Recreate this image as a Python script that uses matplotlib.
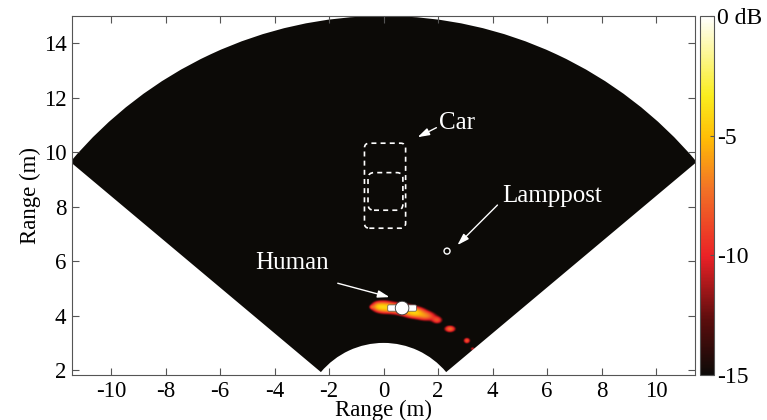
import numpy as np
import matplotlib
matplotlib.use("Agg")
import matplotlib.pyplot as plt
from matplotlib.patches import Wedge, FancyBboxPatch, Circle
from matplotlib.colors import LinearSegmentedColormap

plt.rcParams['font.family'] = ['Liberation Serif', 'DejaVu Serif']
plt.rcParams['axes.unicode_minus'] = False

# ---- data ----
x_ticks = [-10, -8, -6, -4, -2, 0, 2, 4, 6, 8, 10]
y_ticks = [2, 4, 6, 8, 10, 12, 14]
cbar_ticks = [0, -5, -10, -15]
cbar_labels = ['0 dB', '-5', '-10', '-15']
sector_angle_deg = 50
r_min, r_max = 3.0, 15.0

# hotspots of reflected power: x, y, sigma_x, sigma_y, linear amplitude
spot_x = [-0.02, 0.35, 0.68, 1.12, 1.55, 1.95, -0.25, -0.45, 2.42, 3.04, 3.25]
spot_y = [4.30, 4.27, 4.22, 4.10, 3.97, 3.82, 4.33, 4.30, 3.50, 3.07, 2.77]
spot_sx = [0.22, 0.20, 0.26, 0.24, 0.22, 0.13, 0.13, 0.06, 0.13, 0.08, 0.06]
spot_sy = [0.13, 0.12, 0.13, 0.12, 0.11, 0.09, 0.10, 0.05, 0.08, 0.07, 0.05]
spot_amp = [0.33, 0.16, 0.20, 0.33, 0.18, 0.13, 0.12, 0.08, 0.18, 0.15, 0.09]

human_xy = (0.68, 4.28)
lamppost_xy = (2.33, 6.37)
car_outer = (-0.70, 7.21, 1.51, 3.12)   # x, y, w, h
car_inner = (-0.57, 7.87, 1.28, 1.38)

# ---- figure ----
fig = plt.figure(figsize=(7.67, 4.2), dpi=100)
ax = fig.add_axes([0.0939, 0.107, 0.8123, 0.855])
cax = fig.add_axes([0.9126, 0.107, 0.0183, 0.855])

cmap = LinearSegmentedColormap.from_list('radar', [
    (0.0, (0.05, 0.04, 0.03)),
    (0.15, (0.35, 0.05, 0.05)),
    (0.33, (0.92, 0.13, 0.15)),
    (0.52, (0.95, 0.45, 0.15)),
    (0.66, (1.0, 0.74, 0.02)),
    (0.78, (0.98, 0.93, 0.12)),
    (1.0, (1.0, 1.0, 1.0)),
])

xlim = (-11.43, 11.43)
ylim = (1.82, 15.0)
gx = np.linspace(xlim[0], xlim[1], 900)
gy = np.linspace(ylim[0], ylim[1], 520)
X, Y = np.meshgrid(gx, gy)
P = np.zeros_like(X)
for xs, ys, sx, sy, a in zip(spot_x, spot_y, spot_sx, spot_sy, spot_amp):
    P += a * np.exp(-((X - xs) ** 2 / (2 * sx ** 2) + (Y - ys) ** 2 / (2 * sy ** 2)))
dB = np.clip(10 * np.log10(P + 1e-9), -15, 0)

im = ax.imshow(dB, extent=[xlim[0], xlim[1], ylim[0], ylim[1]], origin='lower',
               cmap=cmap, vmin=-15, vmax=0, interpolation='bilinear', aspect='auto')
wedge = Wedge((0, 0), r_max, 90 - sector_angle_deg, 90 + sector_angle_deg,
              width=r_max - r_min, transform=ax.transData)
im.set_clip_path(wedge)

ax.set_xlim(*xlim)
ax.set_ylim(*ylim)

# car outlines
for (cx, cy, w, h), rnd in [(car_outer, 0.18), (car_inner, 0.22)]:
    ax.add_patch(FancyBboxPatch((cx + rnd, cy + rnd), w - 2 * rnd, h - 2 * rnd,
                                boxstyle=f'round,pad={rnd}', fill=False,
                                edgecolor='white', lw=1.2, ls=(0, (3, 2.5))))

# human marker
ax.add_patch(FancyBboxPatch((human_xy[0] - 0.48, human_xy[1] - 0.07), 0.96, 0.14,
                            boxstyle='round,pad=0.045', facecolor='white',
                            edgecolor='#555555', lw=0.5, zorder=5))
ax.add_patch(Circle(human_xy, 0.25, facecolor='white', edgecolor='#333333', lw=0.6, zorder=6))

# lamppost marker
ax.add_patch(Circle(lamppost_xy, 0.11, facecolor='none', edgecolor='white', lw=1.0, zorder=6))

arrow = dict(arrowstyle='-|>,head_width=0.22,head_length=0.7', color='white', lw=1.0,
             shrinkA=0, shrinkB=0)
ax.annotate('', xy=(1.25, 10.55), xytext=(1.94, 10.9), arrowprops=arrow)
ax.text(2.05, 11.08, 'Car', color='white', fontsize=18, va='center', ha='left')
ax.annotate('', xy=(2.71, 6.59), xytext=(4.18, 8.06), arrowprops=arrow)
ax.text(4.36, 8.38, 'Lamppost', color='white', fontsize=18, va='center', ha='left')
ax.annotate('', xy=(0.22, 4.68), xytext=(-1.68, 5.19), arrowprops=arrow)
ax.text(-4.7, 5.92, 'Human', color='white', fontsize=18, va='center', ha='left')

ax.set_xticks(x_ticks)
ax.set_yticks(y_ticks)
ax.tick_params(direction='in', top=True, right=True, labelsize=16.5, length=5,
               color='#555555', width=0.8, pad=4)
for s in ax.spines.values():
    s.set_color('#555555')
    s.set_linewidth(0.8)
ax.set_xlabel('Range (m)', fontsize=16.5, labelpad=-1)
ax.set_ylabel('Range (m)', fontsize=16.5, labelpad=2)

cb = fig.colorbar(im, cax=cax, ticks=cbar_ticks)
cb.ax.set_yticklabels(cbar_labels)
cb.ax.tick_params(labelsize=17, direction='in', length=3, color='#555555', pad=2)
cb.outline.set_edgecolor('#555555')
cb.outline.set_linewidth(0.8)

fig.savefig('out.png', dpi=100)
